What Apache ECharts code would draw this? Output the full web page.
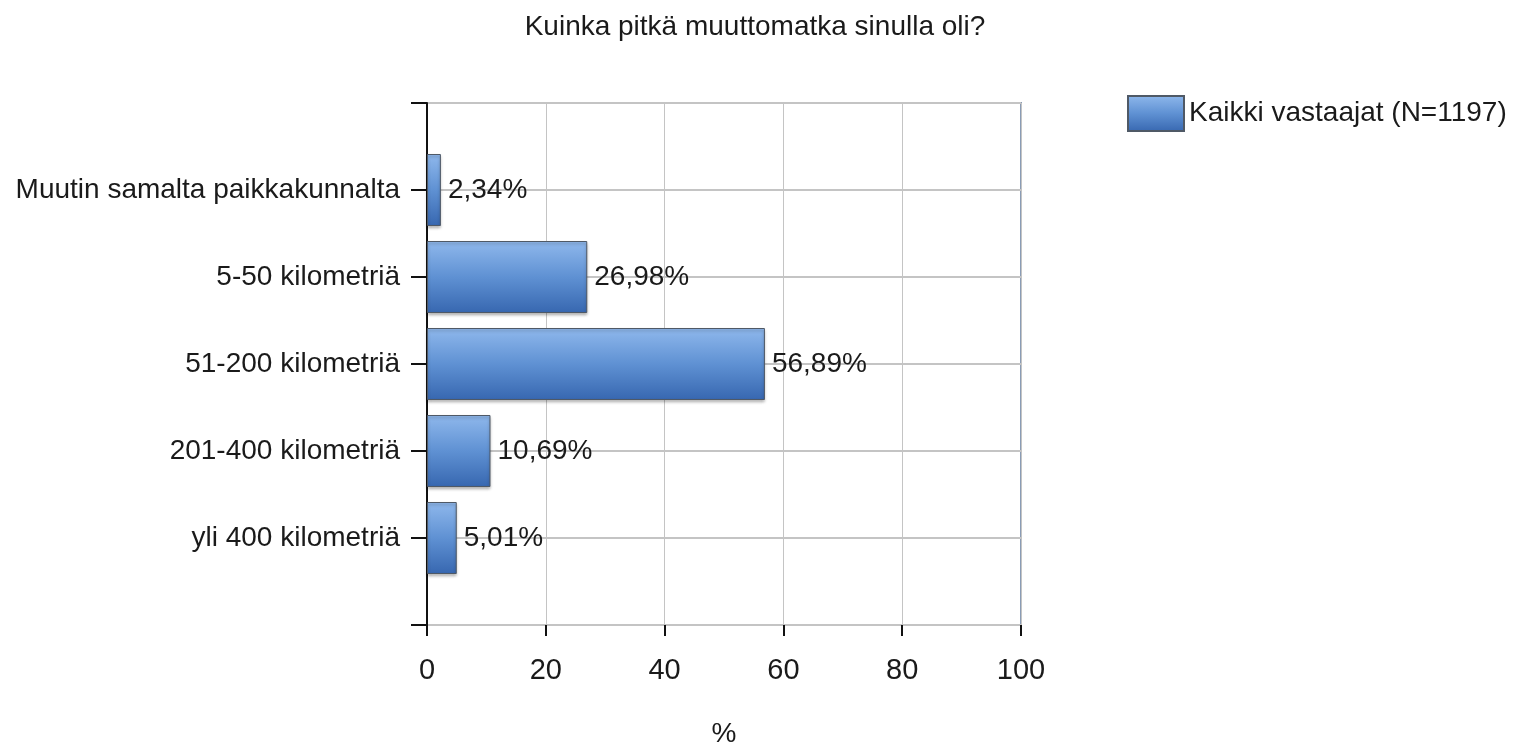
<!DOCTYPE html>
<html>
<head>
<meta charset="utf-8">
<script src="https://cdn.jsdelivr.net/npm/echarts@6/dist/echarts.min.js"></script>
<style>
    html, body { margin: 0; padding: 0; background: #fff; }
    #my_chart { width: 1528px; height: 748px; }
</style>
</head>
<body>
<div id="my_chart"></div>
<script>
var title = 'Kuinka pitkä muuttomatka sinulla oli?';
var series_name = 'Kaikki vastaajat (N=1197)';
var categories = ['Muutin samalta paikkakunnalta', '5-50 kilometriä', '51-200 kilometriä', '201-400 kilometriä', 'yli 400 kilometriä'];
var values = [2.34, 26.98, 56.89, 10.69, 5.01];
var x_ticks = [0, 20, 40, 60, 80, 100];

var font = "'Liberation Sans', Arial, sans-serif";

// empty slot above and below, like the original chart
var y_data = [''].concat(categories).concat(['']);
var bar_data = [null].concat(values).concat([null]);

var myChart = echarts.init(document.getElementById('my_chart'));
var option = {
    animation: false,
    textStyle: {fontFamily: font},
    title: {
        text: title,
        left: 750,
        textAlign: 'center',
        top: 8,
        textStyle: {
            fontFamily: font,
            fontSize: 28,
            fontWeight: 'normal',
            color: '#1a1a1a'
        }
    },
    legend: {
        data: [series_name],
        left: 1122,
        top: 90,
        itemWidth: 56,
        itemHeight: 35,
        itemGap: 10,
        icon: 'rect',
        textStyle: {
            fontFamily: font,
            fontSize: 28,
            color: '#1a1a1a'
        }
    },
    grid: {
        left: 427,
        right: 507,
        top: 103,
        bottom: 123,
        containLabel: false,
        outerBoundsMode: 'none',
        show: true,
        borderColor: '#8a9cb5',
        borderWidth: 2
    },
    xAxis: {
        type: 'value',
        min: x_ticks[0],
        max: x_ticks[x_ticks.length - 1],
        interval: 20,
        name: '%',
        nameLocation: 'middle',
        nameGap: 95,
        nameTextStyle: {
            fontFamily: font,
            fontSize: 28,
            color: '#1a1a1a'
        },
        axisLine: {lineStyle: {color: '#111', width: 3}},
        axisTick: {show: true, length: 11, lineStyle: {color: '#111', width: 2}},
        axisLabel: {
            margin: 31,
            fontFamily: font,
            fontSize: 29,
            color: '#1a1a1a'
        },
        splitLine: {lineStyle: {color: '#c4c4c4', width: 1}}
    },
    yAxis: {
        type: 'category',
        data: y_data,
        inverse: true,
        boundaryGap: false,
        axisLine: {lineStyle: {color: '#111', width: 2}},
        axisTick: {show: true, length: 16, interval: 0, lineStyle: {color: '#111', width: 2}},
        axisLabel: {
            interval: 0,
            margin: 27,
            fontFamily: font,
            fontSize: 28,
            color: '#1a1a1a'
        },
        splitLine: {show: true, interval: 0, lineStyle: {color: '#c4c4c4', width: 2}}
    },
    series: [
        {
            name: series_name,
            type: 'bar',
            barWidth: 72,
            data: bar_data,
            itemStyle: {
                color: new echarts.graphic.LinearGradient(0, 0, 0, 1, [
                    {offset: 0, color: '#8fb8ec'},
                    {offset: 0.5, color: '#5f91d3'},
                    {offset: 1, color: '#3767b0'}
                ]),
                borderColor: '#4f5966',
                borderWidth: 1,
                shadowColor: 'rgba(0,0,0,0.3)',
                shadowBlur: 3,
                shadowOffsetY: 2
            },
            label: {
                show: true,
                position: 'right',
                distance: 7,
                fontFamily: font,
                fontSize: 28,
                color: '#1a1a1a',
                formatter: function (p) {
                    return p.value.toFixed(2).replace('.', ',') + '%';
                }
            }
        }
    ]
};
myChart.setOption(option, true);
</script>
</body>
</html>
